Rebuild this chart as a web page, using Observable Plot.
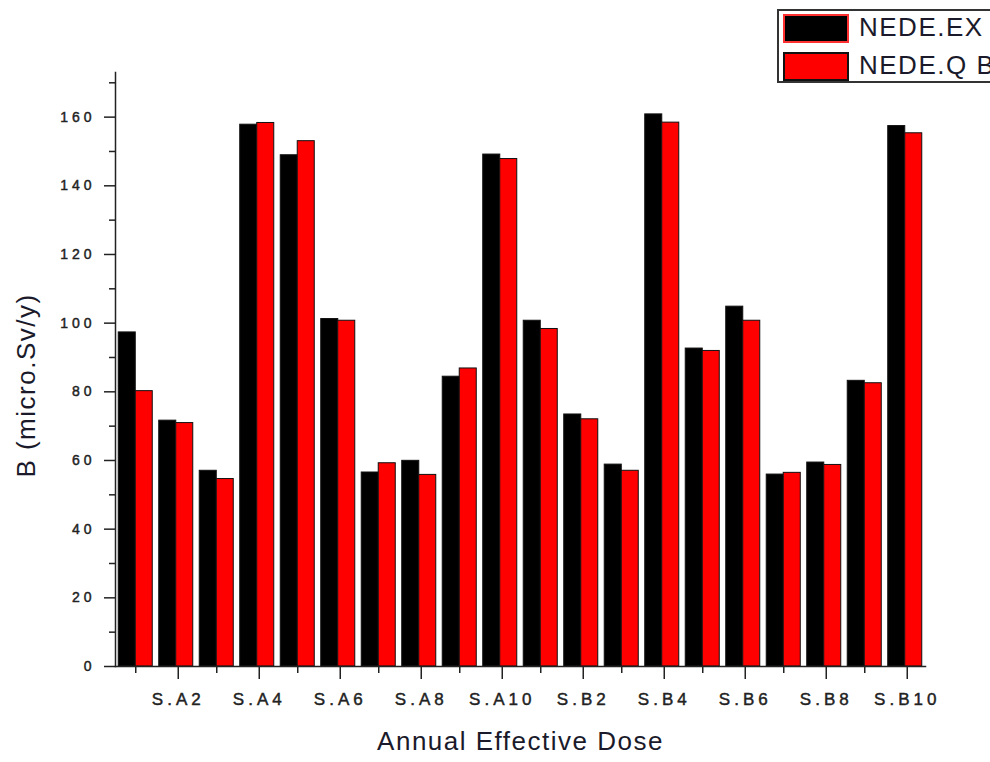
<!DOCTYPE html>
<html>
<head>
<meta charset="utf-8">
<script src="https://cdn.jsdelivr.net/npm/d3@7"></script>
<script src="https://cdn.jsdelivr.net/npm/@observablehq/plot@0.6"></script>
<style>
  html, body { margin: 0; padding: 0; background: #fff; overflow: hidden; }
  #wrap { position: relative; width: 990px; height: 762px; overflow: hidden; font-family: "Liberation Sans", Arial, sans-serif; }
  #chart { position: absolute; left: 0; top: 0; }
  #legend { position: absolute; left: 777px; top: 9px; width: 260px; height: 70px; border: 2px solid #333; background: #fff; }
  .row { position: absolute; left: 4px; height: 29px; }
  .sw { position: absolute; left: 0; top: 0; width: 62px; height: 25px; }
  .lab { position: absolute; left: 76px; top: -2px; font-size: 26px; letter-spacing: 1.5px; color: #1a1a2a; white-space: nowrap; line-height: 30px; }
</style>
</head>
<body>
<div id="wrap">
  <div id="chart"></div>
  <div id="legend"></div>
</div>
<script>
const categories = ["S.A1","S.A2","S.A3","S.A4","S.A5","S.A6","S.A7","S.A8","S.A9","S.A10",
                    "S.B1","S.B2","S.B3","S.B4","S.B5","S.B6","S.B7","S.B8","S.B9","S.B10"];
const nedeEx = [97.3, 71.6, 57.0, 157.8, 148.9, 101.2, 56.5, 59.9, 84.4, 149.1,
                100.7, 73.4, 58.8, 160.8, 92.6, 104.8, 55.9, 59.4, 83.2, 157.4];
const nedeQ  = [80.2, 70.9, 54.6, 158.3, 153.0, 100.7, 59.2, 55.8, 86.8, 147.8,
                98.3, 72.0, 57.0, 158.4, 91.9, 100.7, 56.4, 58.7, 82.5, 155.3];
const seriesNames = ["NEDE.EX", "NEDE.Q B"];
const seriesColors = ["#000000", "#ff0000"];
const yMajorTicks = [0, 20, 40, 60, 80, 100, 120, 140, 160];
const yMinorTicks = [10, 30, 50, 70, 90, 110, 130, 150, 170];
const xLabeledTicks = ["S.A2","S.A4","S.A6","S.A8","S.A10","S.B2","S.B4","S.B6","S.B8","S.B10"];
const xMinorTicks = ["S.A1","S.A3","S.A5","S.A7","S.A9","S.B1","S.B3","S.B5","S.B7","S.B9"];
const xTitle = "Annual Effective Dose";
const yTitle = "B (micro.Sv/y)";

const data = categories.map((c, i) => ({cat: c, ex: nedeEx[i], q: nedeQ[i]}));

const font = "'Liberation Sans', Arial, sans-serif";

const plot = Plot.plot({
  width: 990,
  height: 762,
  marginLeft: 115,
  marginRight: 65,
  marginTop: 72,
  marginBottom: 96,
  style: {fontFamily: font, background: "#fff", overflow: "visible"},
  x: {domain: categories, paddingInner: 0.16, paddingOuter: 0.08, round: false, label: null},
  y: {domain: [0, 173], label: null},
  marks: [
    Plot.barY(data, {x: "cat", y: "ex", fill: seriesColors[0], stroke: "#111", strokeWidth: 1, insetRight: 17}),
    Plot.barY(data, {x: "cat", y: "q", fill: seriesColors[1], stroke: "#111", strokeWidth: 1, insetLeft: 17}),
    Plot.axisY({ticks: yMajorTicks, tickSize: 11, tickPadding: 9, fontSize: 14, label: null, stroke: "#222", strokeWidth: 1.5, color: "#222"}),
    Plot.axisY({ticks: yMinorTicks, tickSize: 6, tickFormat: () => "", label: null, stroke: "#222", strokeWidth: 1.5}),
    Plot.axisX({ticks: xLabeledTicks, tickSize: 13, tickPadding: 13, fontSize: 17, label: null, stroke: "#222", strokeWidth: 1.5, color: "#222", dx: 2}),
    Plot.axisX({ticks: xMinorTicks, tickSize: 7, tickFormat: () => "", label: null, stroke: "#222", strokeWidth: 1.5}),
    Plot.frame({anchor: "left", stroke: "#222", strokeWidth: 1.5}),
    Plot.frame({anchor: "bottom", stroke: "#222", strokeWidth: 1.5}),
    Plot.text([xTitle], {frameAnchor: "bottom", dy: 83, fontSize: 26, fill: "#1a1a2a"}),
    Plot.text([yTitle], {frameAnchor: "left", textAnchor: "middle", rotate: -90, dx: -89, dy: 16, fontSize: 26, fill: "#1a1a2a"})
  ]
});
document.getElementById("chart").appendChild(plot);

const svg = d3.select(plot);
svg.selectAll("text").each(function() {
  const t = this.textContent;
  const sel = d3.select(this);
  if (t === xTitle || t === yTitle) sel.style("letter-spacing", "1.5px");
  else if (xLabeledTicks.includes(t) || yMajorTicks.map(String).includes(t)) {
    sel.style("letter-spacing", "4px").attr("stroke", "#222").attr("stroke-width", 0.45).attr("fill", "#222");
  }
});

const legend = d3.select("#legend");
seriesNames.forEach((name, i) => {
  const row = legend.append("div").attr("class", "row").style("top", (i === 0 ? 3 : 41) + "px");
  row.append("div").attr("class", "sw")
    .style("background", seriesColors[i])
    .style("border", i === 0 ? "2px solid #ff3030" : "2px solid #111");
  row.append("div").attr("class", "lab").text(name);
});
</script>
</body>
</html>
